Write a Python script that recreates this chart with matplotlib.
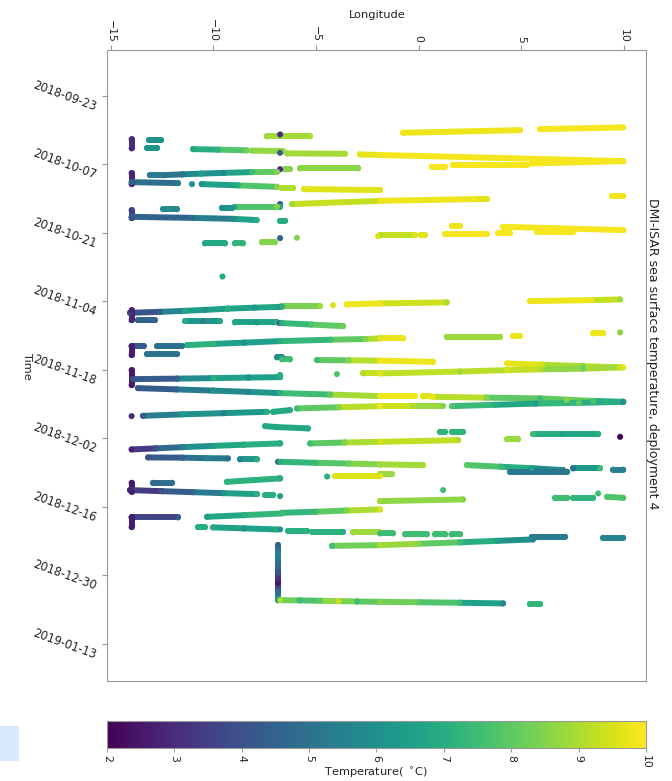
import matplotlib
matplotlib.use("Agg")
import matplotlib.pyplot as plt
import matplotlib.dates as mdates
from matplotlib.collections import LineCollection
from matplotlib.colors import Normalize
from matplotlib.patches import Rectangle
import numpy as np
import pandas as pd

nan = np.nan

# reference date; track times are given in days after it
start = pd.Timestamp("2018-09-23")
tick_dates = ["2018-09-23", "2018-10-07", "2018-10-21", "2018-11-04", "2018-11-18",
              "2018-12-02", "2018-12-16", "2018-12-30", "2019-01-13"]
lon_ticks = [-15, -10, -5, 0, 5, 10]
temp_ticks = [2, 3, 4, 5, 6, 7, 8, 9, 10]

# each leg: (longitude, days after start, temperature); nan = gap in the record
leg01 = ([9.96, 5.91, nan, 4.94, -0.76, nan, -5.29, -7.40, nan, -6.75],
         [6.46, 6.80, nan, 7.01, 7.56, nan, 8.30, 8.30, nan, 7.9],
         [9.9, 9.9, nan, 9.8, 9.8, nan, 9.0, 8.8, nan, 3.0])
stop01 = ([-13.98, -13.98, nan, -13.13, -12.55, nan, -13.23, -12.74],
          [8.91, 10.75, nan, 9.05, 9.05, nan, 10.63, 10.63],
          [3.0, 3.0, nan, 6.0, 6.0, nan, 6.2, 6.2])
leg02 = ([-10.99, -9.77, -8.36, nan, -8.12, -6.61, nan, -6.75, nan, -6.41, -3.59, nan,
          -2.86, -1.88, 4.78, 9.96],
         [10.89, 11.0, 11.15, nan, 11.2, 11.3, nan, 11.65, nan, 11.77, 11.85, nan,
          11.98, 12.1, 12.79, 13.35],
         [6.8, 7.2, 8.4, nan, 8.6, 8.8, nan, 4.5, nan, 8.8, 9.0, nan, 9.6, 9.8, 9.9, 9.9])
leg03 = ([9.96, 5.51, nan, 5.28, 1.67, nan, 1.28, 0.64, nan, -2.95, -5.78, nan, -6.27, -6.5, nan,
          -6.75, nan, -6.90, -8.12, -9.5, -10.6, -11.5, -12.45, nan, -12.60, -13.09],
         [13.35, 13.82, nan, 14.16, 14.16, nan, 14.51, 14.51, nan, 14.84, 14.84, nan, 15.0, 15.0, nan,
          15.0, nan, 15.55, 15.59, 15.75, 15.9, 16.05, 16.21, nan, 16.21, 16.21],
         [9.9, 9.9, nan, 9.9, 9.9, nan, 9.9, 9.9, nan, 8.6, 8.6, nan, 8.5, 8.5, nan,
          3.0, nan, 8.5, 7.5, 5.8, 6.5, 5.2, 5.0, nan, 5.3, 5.3])
stop02 = ([-13.98, -13.98], [15.80, 18.05], [2.8, 2.8])
leg04 = ([-13.98, -11.72, nan, -11.04, nan, -10.57, -8.8, -6.90, nan, -6.66, -6.12, nan, -5.58, -1.88],
         [17.64, 17.84, nan, 18.05, nan, 18.05, 18.3, 18.60, nan, 18.86, 18.86, nan, 19.07, 19.27],
         [4.5, 5.3, nan, 6.0, nan, 6.0, 7.0, 8.6, nan, 9.0, 9.0, nan, 9.6, 9.6])
leg05 = ([9.96, 9.42, nan, 3.33, 2.84, nan, 2.74, -1.88, -6.17, nan, -6.75, -6.75, nan,
          -6.90, -8.95, nan, -9.09, -9.58, nan, -11.77, -12.45],
         [20.5, 20.5, nan, 21.1, 21.1, nan, 21.11, 21.46, 22.13, nan, 22.13, 22.69, nan,
          22.69, 22.69, nan, 22.89, 22.89, nan, 23.16, 23.16],
         [9.8, 9.8, nan, 9.6, 9.6, nan, 9.8, 9.8, 8.8, nan, 4.5, 7.0, nan,
          8.5, 7.0, nan, 6.0, 6.0, nan, 5.8, 5.8])
stop03 = ([-13.98, -13.98], [23.36, 25.0], [3.5, 3.5])
leg06 = ([-13.98, -11.0, -9.0, -7.89, nan, -6.75, -6.5, nan, 1.62, 2.01, nan, 4.11, 6.5, 9.96],
         [24.73, 24.95, 25.15, 25.4, nan, 25.55, 25.55, nan, 26.57, 26.57, nan, 26.77, 27.05, 27.45],
         [4.2, 4.8, 6.0, 7.0, nan, 7.0, 7.0, nan, 9.8, 9.8, nan, 9.9, 9.9, 9.9])
leg07 = ([7.52, 5.76, nan, 4.45, 3.87, nan, 3.33, 1.28, nan, 0.3, 0.1, nan, -0.18, -1.88, nan,
          -1.98, nan, -5.93, nan, -6.75, nan, -7.0, -7.63, nan, -8.56, -8.95, nan, -9.43, -10.41],
         [27.79, 27.79, nan, 28.06, 28.06, nan, 28.26, 28.26, nan, 28.47, 28.47, nan, 28.47, 28.47, nan,
          28.67, nan, 29.02, nan, 29.08, nan, 29.96, 29.96, nan, 30.17, 30.17, nan, 30.17, 30.17],
         [9.9, 9.9, nan, 9.9, 9.9, nan, 9.9, 9.9, nan, 9.6, 9.6, nan, 9.6, 9.0, nan,
          9.5, nan, 8.5, nan, 4.5, nan, 8.5, 8.5, nan, 7.2, 7.2, nan, 6.8, 6.8])
lone01 = ([-9.60], [36.85], [6.8])
leg08 = ([9.81, 8.4, 5.42, nan, 1.37, -1.88, -3.5, nan, -4.17, nan, -4.81, -6.66, nan, -6.75, nan,
          -6.66, -8.0, -9.3, -10.4, -11.38, -12.6, -14.06],
         [41.61, 41.75, 41.96, nan, 42.22, 42.43, 42.63, nan, 42.78, nan, 42.98, 42.98, nan, 43.12, nan,
          43.12, 43.3, 43.5, 43.75, 43.94, 44.15, 44.35],
         [8.8, 9.8, 9.8, nan, 9.0, 9.8, 9.8, nan, 9.5, nan, 8.8, 8.0, nan, 6.0, nan,
          7.2, 6.2, 7.0, 6.0, 6.8, 4.5, 3.5])
stop04 = ([-13.98, -13.98], [43.8, 45.84], [2.8, 2.8])
leg09 = ([-13.67, -12.84, nan, -11.38, -10.5, -9.68, nan, -8.95, -7.9, -6.90, nan, -6.75, nan,
          -6.66, -5.2, -3.68],
         [45.84, 45.84, nan, 46.05, 46.05, 46.05, nan, 46.31, 46.31, 46.31, nan, 46.45, nan,
          46.45, 46.75, 47.07],
         [4.5, 4.5, nan, 7.0, 5.5, 6.8, nan, 6.8, 6.3, 7.0, nan, 4.0, nan, 7.0, 7.8, 8.2])
leg10 = ([9.81, nan, 8.98, 8.49, nan, 4.94, 4.6, nan, 3.96, 1.37, nan, -0.76, -1.88, -2.6, -4.3, -6.75,
          -8.5, -10.0, -11.28, nan, -11.53, -12.74, nan, -13.4, -13.98],
         [48.36, nan, 48.56, 48.56, nan, 49.05, 49.05, nan, 49.25, 49.25, nan, 49.58, 49.58, 49.7, 49.85,
          50.13, 50.45, 50.7, 50.95, nan, 51.15, 51.15, nan, 51.15, 51.15],
         [8.6, nan, 9.8, 9.8, nan, 9.8, 9.8, nan, 8.8, 8.8, nan, 9.8, 9.6, 8.5, 7.5, 7.0,
          6.0, 7.2, 7.0, nan, 5.0, 5.0, nan, 4.2, 4.2])
stop05 = ([-13.98, -13.98], [51.15, 52.99], [2.6, 2.6])
leg11 = ([-13.23, -11.77, nan, -6.9, -6.66, nan, -6.66, -6.27, nan, -4.95, -3.4, -1.88, 0.70, nan,
          4.30, 6.0, 8.0, 9.96],
         [52.79, 52.79, nan, 53.46, 53.46, nan, 53.87, 53.87, nan, 54.0, 54.06, 54.12, 54.36, nan,
          54.69, 54.95, 55.25, 55.51],
         [5.0, 5.0, nan, 5.8, 5.8, nan, 7.5, 7.5, nan, 7.5, 8.5, 9.8, 9.8, nan, 9.8, 9.5, 8.5, 9.8])
leg12 = ([9.81, 8.0, 6.0, 4.30, 2.0, -1.88, -2.71, nan, -3.98, nan, -6.75, -6.75, nan,
          -6.75, -8.3, -10.0, -11.77, -13.91],
         [55.51, 55.75, 55.9, 56.06, 56.35, 56.73, 56.73, nan, 56.88, nan, 57.08, 57.49, nan,
          57.49, 57.58, 57.7, 57.8, 57.9],
         [9.5, 8.3, 9.0, 9.5, 8.8, 9.6, 9.0, nan, 7.8, nan, 7.0, 7.0, nan, 7.0, 6.0, 7.0, 4.5, 4.0])
stop06 = ([-13.98, -13.98], [56.06, 59.13], [2.5, 2.5])
leg13 = ([-13.67, -11.8, -10.0, -8.3, -6.75, -4.3, -1.88, -0.18, nan, 0.21, 0.55, nan,
          0.70, 3.3, 5.91, 7.2, 8.5, 9.96],
         [59.74, 60.0, 60.25, 60.5, 60.76, 61.05, 61.37, 61.37, nan, 61.45, 61.45, nan,
          61.52, 61.68, 61.84, 62.1, 62.35, 62.54],
         [4.0, 4.5, 6.0, 5.5, 7.0, 8.0, 9.8, 9.8, nan, 9.6, 9.6, nan, 9.8, 8.5, 7.5, 8.5, 7.8, 6.0])
leg14 = ([9.96, 7.8, 5.7, 3.7, 1.62, nan, 1.19, -0.3, -1.88, -3.9, -5.93, nan, -6.27, -7.09, nan,
          -7.39, -9.5, -11.5, -13.43, nan, -13.98],
         [62.54, 62.75, 62.9, 63.15, 63.42, nan, 63.42, 63.42, 63.42, 63.65, 63.89, nan, 64.24, 64.58, nan,
          64.58, 64.85, 65.1, 65.40, nan, 65.46],
         [6.0, 8.0, 6.5, 7.0, 7.8, nan, 8.5, 9.0, 9.8, 8.5, 7.5, nan, 6.8, 6.8, nan,
          7.0, 5.5, 6.5, 4.2, nan, 3.0])
leg15 = ([-7.48, -6.90, -5.39, nan, 1.04, 1.28, nan, 1.62, 2.16, nan, 5.57, 7.0, 8.74, nan, 9.81],
         [67.5, 67.7, 67.97, nan, 68.67, 68.67, nan, 68.67, 68.67, nan, 69.14, 69.14, 69.14, nan, 69.69],
         [6.8, 6.8, 6.8, nan, 7.2, 7.2, nan, 7.2, 7.2, nan, 7.5, 6.5, 7.0, nan, 2.0])
leg16 = ([4.84, 4.30, nan, 1.92, -1.88, -3.6, -5.29, nan, -6.75, nan,
          -6.75, -8.5, -10.0, -11.5, -12.8, -13.98],
         [70.22, 70.22, nan, 70.37, 70.71, 70.85, 71.04, nan, 71.04, nan,
          71.04, 71.3, 71.55, 71.8, 72.05, 72.27],
         [8.8, 8.8, nan, 9.0, 9.5, 8.5, 7.5, nan, 6.0, nan, 7.0, 7.0, 6.5, 5.5, 4.0, 2.8])
leg17 = ([-13.18, -11.5, -10.3, -9.29, nan, -8.70, -7.87, nan, -6.85, nan,
          -6.75, -5.0, -3.4, -1.88, 0.21, nan, 2.35, 4.0, 5.5, 7.03, nan, 7.52, 8.83, nan, 9.47, 9.96],
         [73.9, 73.95, 74.05, 74.1, nan, 74.31, 74.31, nan, 74.8, nan,
          74.8, 75.0, 75.15, 75.33, 75.47, nan, 75.47, 75.8, 76.1, 76.5, nan, 76.15, 76.15, nan, 76.4, 76.4],
         [4.0, 4.5, 5.5, 5.0, nan, 5.5, 7.0, nan, 4.0, nan,
          7.0, 7.5, 8.2, 8.8, 9.0, nan, 8.0, 7.5, 6.5, 5.2, nan, 5.0, 7.5, nan, 5.5, 5.5])
leg18 = ([7.23, 4.45, nan, -1.3, -1.88, nan, -1.88, -4.07, nan, -4.46, nan, -6.75, nan,
          -6.75, -9.34, nan, -12.01, -12.94],
         [76.84, 76.84, nan, 77.3, 77.3, nan, 77.72, 77.72, nan, 77.8, nan, 78.19, nan,
          78.19, 78.89, nan, 79.09, 79.09],
         [5.2, 5.2, nan, 8.8, 8.8, nan, 9.6, 9.6, nan, 7.0, nan, 6.0, nan, 7.0, 7.2, nan, 4.8, 4.8])
stop07 = ([-13.98, -13.98], [79.09, 80.93], [2.5, 2.5])
leg19 = ([-14.06, -12.5, -11.0, -9.5, -7.87, nan, -7.48, -7.09, nan, -6.75, nan, 1.19, nan,
          -1.88, 2.16, nan, 6.64, 7.23, nan, 7.52, 8.49, nan, 8.74, nan, 9.17, 9.96],
         [80.58, 80.8, 81.0, 81.2, 81.4, nan, 81.61, 81.61, nan, 81.81, nan, 80.58, nan,
          82.83, 82.49, nan, 82.16, 82.16, nan, 82.16, 82.16, nan, 81.26, nan, 81.95, 82.16],
         [2.8, 4.0, 4.5, 6.0, 7.0, nan, 7.0, 7.0, nan, 6.5, nan, 7.5, nan,
          8.8, 8.5, nan, 7.5, 7.5, nan, 7.2, 7.2, nan, 7.5, nan, 7.8, 7.8])
leg20 = ([-1.88, -3.5, -5.0, -6.66, nan, -6.66, -8.5, -10.31, nan, -11.72, -13.98],
         [84.53, 84.75, 85.0, 85.22, nan, 85.35, 85.7, 86.04, nan, 86.16, 86.16],
         [9.5, 8.5, 7.5, 7.0, nan, 7.5, 7.0, 6.5, nan, 4.2, 3.0])
stop08 = ([-13.98, -13.98], [86.16, 88.15], [2.6, 2.6])
leg21 = ([-10.75, -10.41, nan, -10.02, -8.5, -6.90, nan, -6.75, nan, -6.36, -5.44, nan,
          -5.20, -3.68, nan, -3.20, -1.88, nan, -1.88, -1.25, nan, -0.66, 0.4, nan, 0.8, 1.3, nan,
          1.6, 2.01, nan, 5.51, 7.13, nan, 8.98, 9.96],
         [88.15, 88.15, nan, 88.2, 88.4, 88.62, nan, 88.62, nan, 88.90, 88.90, nan,
          89.11, 89.11, nan, 89.23, 89.23, nan, 89.43, 89.43, nan, 89.64, 89.64, nan, 89.64, 89.64, nan,
          89.64, 89.64, nan, 90.13, 90.13, nan, 90.33, 90.33],
         [7.0, 7.0, nan, 7.0, 6.2, 7.0, nan, 6.0, nan, 7.0, 7.0, nan,
          7.2, 7.0, nan, 8.8, 8.8, nan, 7.5, 7.5, nan, 7.5, 7.5, nan, 7.5, 7.5, nan,
          7.5, 7.5, nan, 5.3, 5.3, nan, 5.5, 5.5])
leg22 = ([5.57, 3.8, 2.0, 0.0, -1.88, -4.22],
         [90.66, 90.95, 91.25, 91.55, 91.83, 91.97],
         [5.5, 6.5, 7.5, 8.5, 9.0, 7.5])
faroe_stop = ([-6.85, -6.85, -6.85, -6.85, -6.85, -6.85, -6.85],
              [91.8, 93.5, 95.5, 97.5, 99.6, 101.5, 103.1],
              [4.5, 5.5, 5.0, 4.0, 2.5, 5.0, 6.0])
leg23 = ([-6.75, -5.8, -4.8, -3.9, -3.0, -1.88, 0.0, 2.0, 4.11, nan, 5.42, 5.91],
         [103.07, 103.12, 103.2, 103.27, 103.34, 103.41, 103.5, 103.6, 103.74, nan, 103.88, 103.88],
         [9.0, 7.5, 8.0, 9.3, 7.5, 8.5, 8.0, 7.5, 5.5, nan, 7.2, 7.2])

legs = [leg01, stop01, leg02, leg03, stop02, leg04, leg05, stop03, leg06, leg07, lone01,
        leg08, stop04, leg09, leg10, stop05, leg11, leg12, stop06, leg13, leg14, leg15,
        leg16, leg17, leg18, stop07, leg19, leg20, stop08, leg21, leg22, faroe_stop, leg23]

cmap = plt.get_cmap("viridis")
norm = Normalize(vmin=2, vmax=10)
t0 = mdates.date2num(start.to_pydatetime())

fig = plt.figure(figsize=(6.72, 7.81), dpi=100)
ax = fig.add_axes([0.1592, 0.1280, 0.8021, 0.8079])


def draw_leg(ax, lon, day, temp):
    lon = np.asarray(lon, float)
    y = t0 + np.asarray(day, float)
    t = np.asarray(temp, float)
    segs, cols = [], []
    for i in range(len(lon) - 1):
        if np.isnan(lon[i]) or np.isnan(lon[i + 1]):
            continue
        segs.append([(lon[i], y[i]), (lon[i + 1], y[i + 1])])
        cols.append((t[i] + t[i + 1]) / 2)
    if segs:
        lc = LineCollection(segs, cmap=cmap, norm=norm, linewidths=4.3, capstyle="round")
        lc.set_array(np.array(cols))
        ax.add_collection(lc)
    ax.scatter(lon, y, c=t, cmap=cmap, norm=norm, s=19, linewidths=0, zorder=3)


for lon, day, temp in legs:
    draw_leg(ax, lon, day, temp)

ax.set_xlim(-15.18, 11.07)
ax.set_ylim(t0 + 119.6, t0 - 9.35)

ax.xaxis.tick_top()
ax.set_xticks(lon_ticks)
ax.set_xticklabels([f"{v}".replace("-", "\u2212") for v in lon_ticks])
ytick_pos = [mdates.date2num(pd.Timestamp(d).to_pydatetime()) for d in tick_dates]
ax.set_yticks(ytick_pos)
ax.set_yticklabels(tick_dates)

ax.tick_params(axis="x", labelsize=7.8, labelrotation=-90, length=3.5, color="#999999",
               labelcolor="#222222", pad=2)
ax.tick_params(axis="y", labelsize=8.3, labelrotation=-20, length=3.5, color="#999999",
               labelcolor="#222222", pad=3)
for lab in ax.get_yticklabels():
    lab.set_verticalalignment("center")
for sp in ax.spines.values():
    sp.set_color("#999999")

fig.text(377 / 672, 1 - 15 / 781, "Longitude", ha="center", va="center", fontsize=8.2, color="#222222")
fig.text(27.5 / 672, 1 - 366 / 781, "Time", ha="center", va="center", rotation=-90,
         fontsize=8.2, color="#222222")
fig.text(652 / 672, 1 - 354 / 781, "DMI-ISAR sea surface temperature, deployment 4",
         ha="center", va="center", rotation=-90, fontsize=9, color="#222222")

cax = fig.add_axes([0.1592, 0.0423, 0.8021, 0.0346])
sm = plt.cm.ScalarMappable(norm=norm, cmap=cmap)
cb = fig.colorbar(sm, cax=cax, orientation="horizontal", ticks=temp_ticks)
cb.outline.set_edgecolor("#999999")
cax.tick_params(labelsize=7.8, labelrotation=-90, length=3, color="#999999",
                labelcolor="#222222", pad=2)
fig.text(376.5 / 672, 1 - 773 / 781, r"Temperature( $^\circ$C)", ha="center", va="center",
         fontsize=8.2, color="#222222")

fig.add_artist(Rectangle((0, 1 - 761 / 781), 19 / 672, 35 / 781, transform=fig.transFigure,
                         facecolor="#d9e8fb", edgecolor="none"))

fig.savefig("out.png", dpi=100)
